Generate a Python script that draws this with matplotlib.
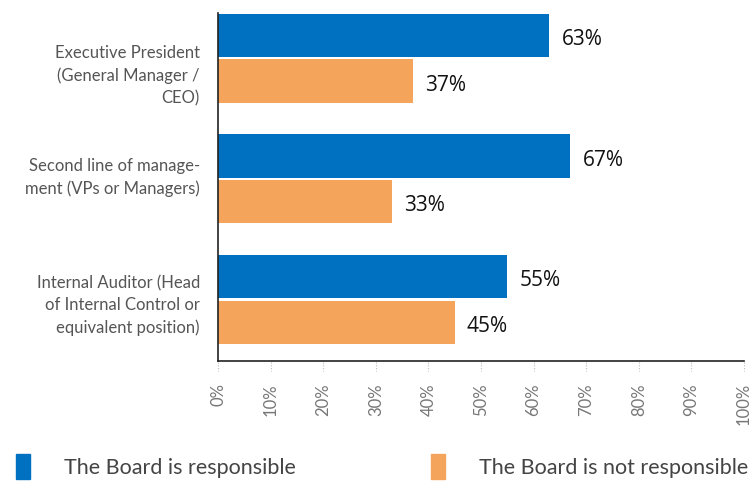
import matplotlib
matplotlib.use("Agg")
import matplotlib.pyplot as plt
from matplotlib.patches import Patch
from matplotlib.transforms import ScaledTranslation

# data
categories = [
    "Executive President\n(General Manager /\nCEO)",
    "Second line of manage-\nment (VPs or Managers)",
    "Internal Auditor (Head\nof Internal Control or\nequivalent position)",
]
responsible = [63, 67, 55]
not_responsible = [37, 33, 45]
series_names = ["The Board is responsible", "The Board is not responsible"]
xticks = list(range(0, 101, 10))

BLUE = "#0070C0"
ORANGE = "#F5A45B"
GRAY = "#555555"
FONT = "Lato"

fig = plt.figure(figsize=(7.49, 4.82), dpi=100)
ax = fig.add_axes([218 / 749, 1 - 361 / 482, (744 - 218) / 749, (361 - 13) / 482])

bar_h = 0.36
off = 0.19
ys = list(range(len(categories)))
ax.barh([y - off for y in ys], responsible, height=bar_h, color=BLUE)
ax.barh([y + off for y in ys], not_responsible, height=bar_h, color=ORANGE)

# value labels, sitting a touch below the bar centre as in the original
for y, v in zip(ys, responsible):
    ax.text(v + 2.3, y - off + 0.035, f"{v}%", va="center", ha="left", fontsize=15,
            color="#111111", family="Open Sans")
for y, v in zip(ys, not_responsible):
    ax.text(v + 2.3, y + off + 0.035, f"{v}%", va="center", ha="left", fontsize=15,
            color="#111111", family="Open Sans")

ymax = 2.51
ax.set_xlim(0, 100)
ax.set_ylim(ymax, -0.375)
ax.set_yticks(ys)
ax.set_yticklabels(categories, fontsize=12, color=GRAY, family=FONT,
                   linespacing=1.45)
ax.tick_params(axis="y", length=0, pad=13)
# the original's category labels are not quite centred on their groups
for lab, dy in zip(ax.get_yticklabels(), [-13, 6, -1.5]):
    lab.set_transform(lab.get_transform() + ScaledTranslation(0, dy / 100, fig.dpi_scale_trans))

ax.set_xticks(xticks)
ax.set_xticklabels([f"{t}%" for t in xticks], rotation=90, fontsize=12,
                   color="#777777", family=FONT)
ax.tick_params(axis="x", length=0, pad=16)

# dotted tick marks below the axis
for x in xticks:
    ax.plot([x, x], [ymax + 0.01, ymax + 0.08], color="#bbbbbb", lw=0.8,
            ls=(0, (1, 1.5)), clip_on=False)

for s in ["top", "right"]:
    ax.spines[s].set_visible(False)
ax.spines["left"].set_color("#222222")
ax.spines["bottom"].set_color("#222222")
ax.spines["left"].set_linewidth(1.2)
ax.spines["bottom"].set_linewidth(1.2)

handles = [Patch(color=BLUE), Patch(color=ORANGE)]
fig.legend(handles, series_names, loc="lower left", bbox_to_anchor=(-3 / 749, -0.035),
           ncol=2, frameon=False, prop={"family": FONT, "size": 15.5},
           labelcolor="#444444", handlelength=0.65, handleheight=1.45,
           handletextpad=1.55, columnspacing=6.3)

fig.savefig("out.png", dpi=100)
